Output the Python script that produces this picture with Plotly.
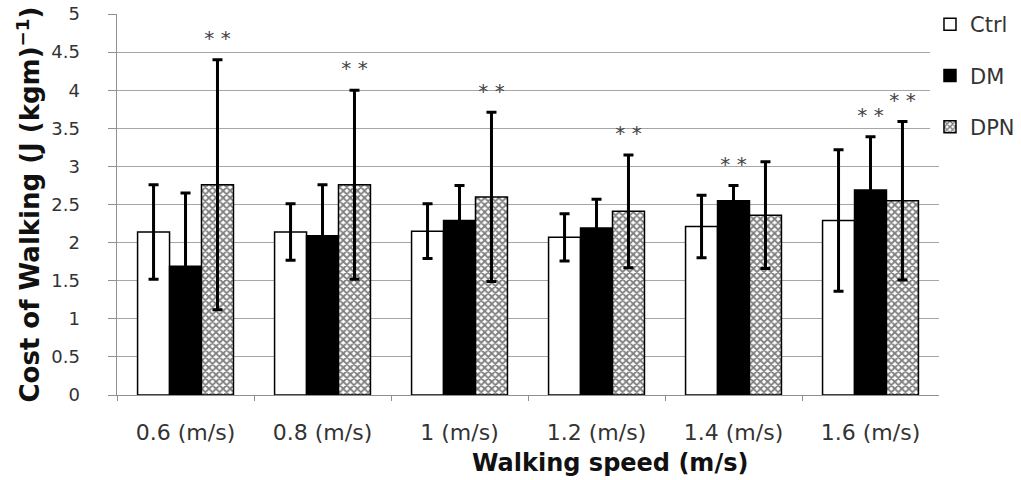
import plotly.graph_objects as go

categories = ["0.6 (m/s)", "0.8 (m/s)", "1 (m/s)", "1.2 (m/s)", "1.4 (m/s)", "1.6 (m/s)"]
ctrl = [2.14, 2.14, 2.15, 2.07, 2.21, 2.29]
ctrl_err = [0.62, 0.37, 0.36, 0.31, 0.41, 0.93]
dm = [1.69, 2.09, 2.29, 2.19, 2.55, 2.69]
dm_err = [0.96, 0.67, 0.46, 0.38, 0.20, 0.70]
dpn = [2.76, 2.76, 2.60, 2.41, 2.36, 2.55]
dpn_err = [1.64, 1.24, 1.11, 0.74, 0.70, 1.04]
ctrl_sig = ["", "", "", "", "", ""]
dm_sig = ["", "", "", "", "* *", "* *"]
dpn_sig = ["* *", "* *", "* *", "* *", "", "* *"]

FONT = "DejaVu Sans"
fig = go.Figure()

series = [
    ("Ctrl", ctrl, ctrl_err, ctrl_sig, dict(color="white")),
    ("DM", dm, dm_err, dm_sig, dict(color="black")),
    ("DPN", dpn, dpn_err, dpn_sig,
     dict(color="white", pattern=dict(shape="x", fgcolor="black", bgcolor="white", size=5, solidity=0.6))),
]

for i, (name, vals, errs, sig, mk) in enumerate(series):
    fig.add_trace(go.Bar(
        x=categories, y=vals, name=name,
        marker=dict(line=dict(color="black", width=1.5), **mk),
        error_y=dict(type="data", array=errs, visible=True, color="black", thickness=3, width=5),
        offsetgroup=str(i), legendgroup=str(i),
    ))

for i, (name, vals, errs, sig, mk) in enumerate(series):
    ys = [v + e if s else None for v, e, s in zip(vals, errs, sig)]
    fig.add_trace(go.Scatter(
        x=categories, y=ys, text=sig, mode="markers+text", textposition="top center",
        marker=dict(size=14, color="rgba(0,0,0,0)"), yaxis="y2",
        textfont=dict(family=FONT, size=20, color="#444444"),
        offsetgroup=str(i), showlegend=False, hoverinfo="skip",
    ))

fig.add_annotation(
    text="<b>Walking speed (m/s)</b>", xref="paper", yref="paper",
    x=0.617, y=-0.178, xanchor="center", yanchor="middle", showarrow=False,
    font=dict(family=FONT, size=24, color="#111111"),
)
fig.add_annotation(
    text="<b>Cost of Walking (J (kgm)<sup>\u2212</sup><sup>1</sup>)</b>", xref="paper", yref="paper",
    x=-0.0605, y=0.5, xanchor="center", yanchor="middle", showarrow=False, textangle=-90,
    font=dict(family=FONT, size=26, color="#111111"),
)

fig.update_layout(
    width=1021, height=480,
    barmode="group", bargap=0.3, bargroupgap=0.0, scattermode="group", scattergap=0.3,
    plot_bgcolor="white", paper_bgcolor="white",
    margin=dict(l=80, r=82, t=14, b=85, autoexpand=False),
    font=dict(family=FONT, color="#222222"),
    legend=dict(x=0.9895, y=1.026, xanchor="left", yanchor="top", tracegroupgap=21,
                font=dict(family=FONT, size=21, color="#333333"), itemwidth=30),
    xaxis=dict(
        automargin=False, domain=[0.0431, 1],
        showline=True, linecolor="#909090", linewidth=1,
        ticks="outside", tickson="boundaries", ticklen=5, tickcolor="#909090",
        tickfont=dict(family=FONT, size=22, color="#333333"), ticklabelstandoff=18,
    ),
    yaxis=dict(
        automargin=False,
        range=[0, 5], dtick=0.5, showgrid=True, gridcolor="#a6a6a6", gridwidth=1,
        showline=True, linecolor="#909090", linewidth=1,
        ticks="outside", ticklen=8, tickcolor="#909090",
        showticklabels=False, zeroline=False,
    ),
    yaxis2=dict(
        automargin=False, overlaying="y", anchor="free", position=0, side="left",
        range=[0, 5], dtick=0.5, showgrid=False, showline=False, ticks="",
        tickfont=dict(family=FONT, size=18, color="#333333"), zeroline=False,
    ),
)

fig.write_html("out.html", config={"displayModeBar": False},
               post_script="document.body.style.margin='0px';")
